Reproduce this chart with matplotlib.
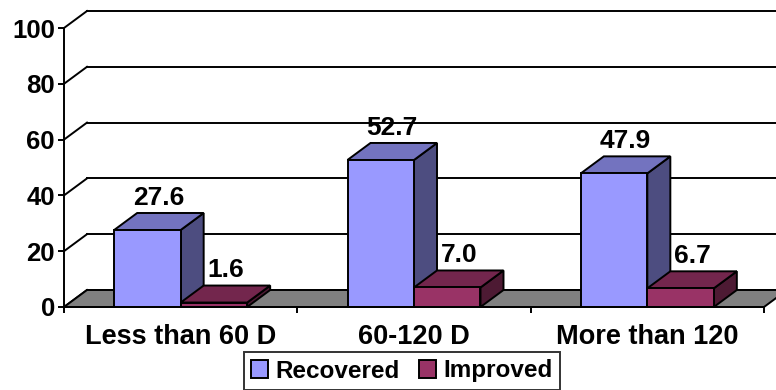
import numpy as np
import matplotlib
matplotlib.use("Agg")
import matplotlib.pyplot as plt
from matplotlib.patches import Polygon, Patch
from matplotlib.lines import Line2D

categories = ["Less than 60 D", "60-120 D", "More than 120"]
series_names = ["Recovered", "Improved"]
recovered = [27.6, 52.7, 47.9]
improved = [1.6, 7.0, 6.7]
y_ticks = [0, 20, 40, 60, 80, 100]

front_colors = ["#9999FF", "#993366"]
top_colors = ["#7373BF", "#73264D"]
side_colors = ["#4D4D80", "#4D1A33"]
floor_color = "#808080"

plt.rcParams["font.family"] = ["Liberation Sans", "DejaVu Sans"]
plt.rcParams["font.weight"] = "bold"

W, H, DPI = 776, 390, 100
fig = plt.figure(figsize=(W / DPI, H / DPI), dpi=DPI)
ax = fig.add_axes([64 / W, 1 - 307 / H, 700 / W, 279 / H])
n = len(categories)
ax.set_xlim(0, n)
ax.set_ylim(0, 100)
fig.canvas.draw()

# depth of the 3-D box, given in pixels and converted to data units
depth_px = np.array([23.0, 17.0])
p0 = ax.transData.transform((0, 0))
dx, dy = ax.transData.inverted().transform(p0 + depth_px) - np.array([0, 0])

lw = 1.4
edge = dict(edgecolor="black", linewidth=lw, joinstyle="miter", clip_on=False)

# back wall grid lines and left wall diagonals
for t in y_ticks:
    ax.add_line(Line2D([dx, n + dx + 0.5], [t + dy, t + dy], color="black",
                       lw=lw, clip_on=False, zorder=1))
    ax.add_line(Line2D([0, dx], [t, t + dy], color="black", lw=lw,
                       clip_on=False, zorder=1))

# floor
ax.add_patch(Polygon([(0, 0), (n, 0), (n + dx, dy), (dx, dy)], closed=True,
                     facecolor=floor_color, zorder=2, **edge))

bar_w = 0.285
z = 3
for i in range(n):
    for s, vals in enumerate([recovered, improved]):
        v = vals[i]
        x0 = i + 0.5 - bar_w + s * bar_w
        x1 = x0 + bar_w
        ax.add_patch(Polygon([(x1, 0), (x1 + dx, dy), (x1 + dx, v + dy), (x1, v)],
                             facecolor=side_colors[s], zorder=z, **edge))
        ax.add_patch(Polygon([(x0, v), (x1, v), (x1 + dx, v + dy), (x0 + dx, v + dy)],
                             facecolor=top_colors[s], zorder=z, **edge))
        ax.add_patch(Polygon([(x0, 0), (x1, 0), (x1, v), (x0, v)],
                             facecolor=front_colors[s], zorder=z, **edge))
        z += 1
        ax.annotate(f"{v:.1f}", xy=((x0 + x1) / 2 + dx / 2, v + dy / 2),
                    xytext=(0, 12), textcoords="offset points",
                    ha="center", va="baseline", fontsize=19, fontweight="bold",
                    zorder=20, annotation_clip=False)

# axes frame: front y axis and front floor edge
for side in ["top", "right"]:
    ax.spines[side].set_visible(False)
for side in ["left", "bottom"]:
    ax.spines[side].set_linewidth(lw)
    ax.spines[side].set_zorder(30)
ax.patch.set_visible(False)

ax.set_yticks(y_ticks)
ax.set_yticklabels([str(t) for t in y_ticks], fontsize=18.5, fontweight="bold")
ax.set_xticks(np.arange(n + 1))
ax.set_xticklabels([])
ax.set_xticks(np.arange(n) + 0.5, minor=True)
ax.set_xticklabels(categories, minor=True, fontsize=19.5, fontweight="bold")
ax.tick_params(axis="both", which="major", direction="out", length=4.5,
               width=lw, pad=2)
ax.tick_params(axis="x", which="minor", length=0, pad=12)

handles = [Patch(facecolor=front_colors[k], edgecolor="black", linewidth=lw,
                 label=series_names[k]) for k in range(2)]
leg = fig.legend(handles=handles, loc="center", bbox_to_anchor=(402 / W, 1 - 371 / H),
                 ncol=2, frameon=True, fancybox=False,
                 handlelength=0.7, handleheight=0.7, handletextpad=0.3,
                 columnspacing=0.8, borderpad=0.3, prop={"weight": "bold", "size": 17.5})
leg.get_frame().set_edgecolor("black")
leg.get_frame().set_linewidth(lw)

fig.savefig("out.png", dpi=DPI)
